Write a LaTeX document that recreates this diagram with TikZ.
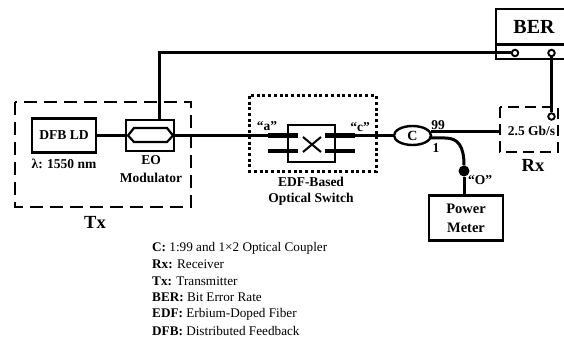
\documentclass[tikz,border=0pt]{standalone}
\usepackage{fontspec}
\setmainfont{Liberation Serif}
\usetikzlibrary{shapes.geometric}
\begin{document}
\begin{tikzpicture}[x=1pt,y=-1pt]
    \tikzstyle box=[draw,line width=2.4pt,inner sep=0pt,align=center,font=\bfseries\fontsize{14.5}{19}\selectfont]
    \tikzstyle fiber=[line width=3pt]
    \tikzstyle thickfiber=[line width=4.6pt]
    \tikzstyle textlabel=[inner sep=0pt,align=center,font=\bfseries\fontsize{13.5}{16}\selectfont]
    \tikzstyle biglabel=[inner sep=0pt,font=\bfseries\fontsize{18.5}{18}\selectfont]
    \tikzstyle port=[circle,draw,fill=white,line width=1.9pt,inner sep=0pt,minimum size=6.5pt]
    \tikzstyle legend=[inner sep=0pt,anchor=west,font=\fontsize{13.2}{14}\selectfont]
    \tikzstyle groupline=[line width=2.8pt,dash pattern=on 13pt off 7pt]
    \useasboundingbox (0,0) rectangle (564,339);
    % transmitter
    \draw[groupline] (15,102) rectangle (191,207);
    \node[biglabel] (txlabel) at (95,222) {Tx};
    \node[box,minimum width=64pt,minimum height=34pt,font=\bfseries\fontsize{13.6}{16}\selectfont] (dfb) at (64,135.5) {DFB LD};
    \node[textlabel] (wave) at (64,164) {λ: 1550 nm};
    \node[box,minimum width=48pt,minimum height=31pt] (eo) at (150,135.5) {};
    \draw[line width=2.2pt] (128,135.5) -- (134,128) -- (167,128) -- (173,135.5) -- (167,142) -- (134,142) -- cycle;
    \node[textlabel] (eolabel) at (151,169) {EO\\[1.5pt]Modulator};
    % switch
    \draw[line width=3pt,dash pattern=on 3pt off 2.7pt] (249,96) rectangle (376,171);
    \node[box,minimum width=47pt,minimum height=37pt] (switch) at (311.5,143.5) {};
    \coordinate (a1) at (268,135.5);
    \coordinate (a2) at (298,135.5);
    \coordinate (b1) at (268,151);
    \coordinate (b2) at (298,151);
    \coordinate (c1) at (325,135.5);
    \coordinate (c2) at (355,135.5);
    \coordinate (d1) at (325,151);
    \coordinate (d2) at (355,151);
    \draw[thickfiber] (a1) -- (a2);
    \draw[thickfiber] (b1) -- (b2);
    \draw[thickfiber] (c1) -- (c2);
    \draw[thickfiber] (d1) -- (d2);
    \draw[line width=2pt] (303,137) -- (321,152);
    \draw[line width=2pt] (303,152) -- (321,137);
    \node[textlabel] (alabel) at (267,126) {``a''};
    \node[textlabel] (clabel) at (360,127) {``c''};
    \node[textlabel] (swlabel) at (311,191) {EDF-Based\\Optical Switch};
    % coupler
    \node[ellipse,draw,line width=2.4pt,minimum width=37pt,minimum height=19pt,inner sep=0pt,
      font=\bfseries\fontsize{14}{14}\selectfont] (coupler) at (412.5,135.5) {C};
    \node[textlabel] (out99) at (438,125) {99};
    \node[textlabel] (out1) at (436,148) {1};
    % receiver
    \draw[line width=2.8pt,dash pattern=on 11pt off 6pt] (500,107) rectangle (558,152);
    \node[textlabel] (rate) at (531.5,131) {2.5 Gb/s};
    \node[biglabel] (rxlabel) at (533,165) {Rx};
    \node[port] (rxport) at (551.5,116.5) {};
    \coordinate (rxin) at (500,132);
    % bit error rate tester
    \draw[line width=2.4pt] (564,9) -- (496,9) -- (496,59) -- (564,59);
    \draw[line width=3pt] (496,45) -- (564,45);
    \node[inner sep=0pt,font=\bfseries\fontsize{20}{20}\selectfont] (berlabel) at (534,27) {BER};
    \node[port] (berin) at (515,53) {};
    \node[port] (berout) at (551.5,53) {};
    % power meter
    \node[box,minimum width=74pt,minimum height=45pt] (meter) at (466,218) {Power\\Meter};
    \node[circle,fill=black,inner sep=0pt,minimum size=11pt] (tap) at (464,171) {};
    \node[textlabel] (olabel) at (480,180) {``O''};
    % fibers
    \coordinate (bend) at (159,53);
    \coordinate (out99start) at (431,132);
    \coordinate (out1start) at (431,138);
    \draw[fiber] (dfb) -- (eo);
    \draw[fiber] (eo.east) -- (a1);
    \draw[fiber] (c2) -- (coupler.west);
    \draw[fiber] (berin) -- (bend) -- (eo.north -| bend);
    \draw[fiber] (berout) -- (rxport);
    \draw[fiber] (out99start) -- (rxin);
    \draw[fiber] (out1start) -- (445,138) .. controls (458,138) and (464,146) .. (tap.north);
    \draw[fiber] (tap) -- (tap |- meter.north);
    % legend
    \node[legend] (l1) at (152,248) {\textbf{C:} 1:99 and 1×2 Optical Coupler};
    \node[legend] (l2) at (152,264) {\textbf{Rx:} Receiver};
    \node[legend] (l3) at (152,281) {\textbf{Tx:} Transmitter};
    \node[legend] (l4) at (152,297) {\textbf{BER:} Bit Error Rate};
    \node[legend] (l5) at (152,314) {\textbf{EDF:} Erbium-Doped Fiber};
    \node[legend] (l6) at (152,331) {\textbf{DFB:} Distributed Feedback};
  \end{tikzpicture}
\end{document}
